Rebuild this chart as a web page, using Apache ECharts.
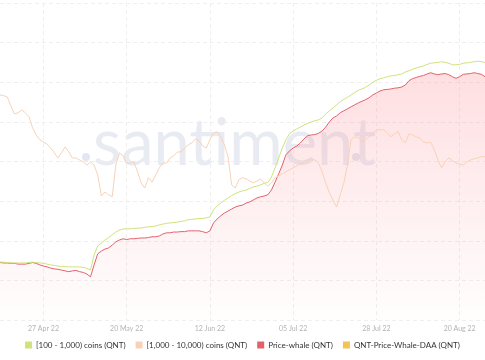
<!DOCTYPE html>
<html>
<head>
<meta charset="utf-8">
<script src="https://cdn.jsdelivr.net/npm/echarts@6/dist/echarts.min.js"></script>
<style>html,body{margin:0;padding:0;background:#fff;}#c{width:485px;height:360px;}</style>
</head>
<body>
<div id="c"></div>
<script>
// Daily categories: 15 Apr 2022 .. 27 Aug 2022 (135 days)
var startDate = '2022-04-15';
var dayCount = 135;
var tickLabels = ['27 Apr 22', '20 May 22', '12 Jun 22', '05 Jul 22', '28 Jul 22', '20 Aug 22'];

var seriesNames = ['[100 - 1,000) coins (QNT)', '[1,000 - 10,000) coins (QNT)', 'Price-whale (QNT)', 'QNT-Price-Whale-DAA (QNT)'];

var coins100to1000 = [
14.6,14.6,14.5,14.4,14.4,14.4,14.4,14.4,14.5,14.6,14.5,14.4,14.3,14.1,13.9,13.8,13.6,13.5,13.5,13.4,
13.4,13.4,13.4,13.3,13.0,12.6,16.4,18.7,19.4,20.2,20.8,21.5,22.2,22.7,23.0,23.0,23.0,23.1,23.2,23.2,
23.4,23.5,23.6,23.7,24.0,24.2,24.4,24.5,24.6,24.7,24.9,25.0,25.3,25.4,25.5,25.6,25.6,25.8,26.0,27.8,
28.8,29.5,30.2,30.8,31.4,31.9,32.3,32.6,32.8,33.2,33.6,33.8,34.1,34.5,34.7,36.1,38.4,40.9,43.4,45.5,
47.0,47.7,48.2,48.7,49.2,49.6,50.0,50.3,50.5,51.0,52.0,52.8,53.5,54.3,55.1,55.7,56.2,56.8,57.4,58.0,
58.3,58.7,59.3,60.0,60.5,60.9,61.1,61.4,61.6,61.7,61.9,62.1,62.6,62.9,63.3,63.6,63.9,64.1,64.5,64.8,
64.9,65.0,65.2,65.0,64.8,64.4,64.4,64.5,64.8,64.9,65.0,65.2,65.3,65.2,65.0
];

var coins1000to10000 = [
56.8,56.6,56.3,54.0,52.0,52.3,53.0,52.3,51.3,48.5,46.7,45.5,44.9,44.4,43.4,42.2,40.9,42.2,43.7,42.4,
40.9,40.9,40.4,39.9,39.1,39.9,39.1,36.6,31.3,32.3,31.6,31.1,39.1,42.2,41.4,39.6,39.6,39.9,37.4,34.6,
33.3,35.9,34.8,36.6,38.4,39.6,39.6,40.9,41.4,42.4,42.4,43.4,44.2,44.7,45.7,45.2,43.9,43.4,45.5,47.2,
47.5,46.2,44.2,41.2,34.1,33.3,35.4,35.9,35.6,35.1,34.6,35.1,35.6,34.6,33.8,34.6,35.9,36.4,36.9,37.4,
37.9,38.4,38.9,39.4,39.9,40.4,40.4,40.4,39.6,37.4,34.6,32.1,30.3,28.5,31.6,34.6,39.1,45.5,46.2,46.0,
44.9,45.5,46.2,47.0,48.0,48.0,48.0,47.2,46.2,47.0,47.5,45.5,44.7,47.0,46.7,46.2,46.0,44.9,44.7,44.9,
42.9,40.4,38.4,39.9,40.9,40.2,39.6,39.4,39.1,39.9,40.4,40.7,40.9,41.2,41.2
];

var priceWhale = [
14.5,14.4,14.4,14.3,14.3,14.1,14.1,14.1,14.3,14.5,14.3,13.9,13.6,13.4,13.1,12.9,12.8,12.6,12.4,12.2,
12.4,12.5,12.2,12.0,11.6,10.9,13.9,16.7,17.4,17.9,18.2,18.9,19.7,20.2,20.5,20.3,20.5,20.5,20.6,20.7,
20.7,20.8,21.0,21.0,21.2,21.7,22.0,22.0,22.2,22.2,22.3,22.3,22.5,22.5,22.5,22.5,22.3,22.0,22.5,24.5,
25.5,26.3,27.0,27.5,28.0,28.5,28.8,29.0,29.5,29.8,30.3,30.8,31.1,31.3,31.6,32.8,34.8,36.9,39.1,41.7,
42.7,43.4,43.9,44.7,45.7,46.5,46.7,46.8,47.1,47.7,48.7,50.0,51.0,51.5,52.3,52.8,53.3,53.8,54.3,54.8,
55.2,55.6,56.1,56.8,57.3,57.8,58.1,58.2,58.3,58.5,58.6,58.8,59.3,60.4,60.9,61.2,61.5,61.7,62.1,62.4,
62.1,61.9,62.1,62.2,61.9,61.4,61.0,61.4,62.0,62.1,62.2,62.4,62.2,62.0,61.4
];

var priceWhaleDAA = [];

var colors = ['#d0e27a', '#f8d2b6', '#e4606b', '#f3c454'];

var months = ['Jan','Feb','Mar','Apr','May','Jun','Jul','Aug','Sep','Oct','Nov','Dec'];
var categories = [];
var t0 = Date.parse(startDate + 'T00:00:00Z');
for (var i = 0; i < dayCount; i++) {
  var d = new Date(t0 + i * 86400000);
  var dd = ('0' + d.getUTCDate()).slice(-2);
  categories.push(dd + ' ' + months[d.getUTCMonth()] + ' ' + String(d.getUTCFullYear()).slice(-2));
}
function isTick(idx) { return tickLabels.indexOf(categories[idx]) >= 0; }

var chart = echarts.init(document.getElementById('c'), null, {renderer: 'canvas'});
chart.setOption({
  animation: false,
  backgroundColor: '#ffffff',
  color: colors,
  grid: {left: 0, right: 0, top: 3, bottom: 40},
  legend: {
    bottom: 11, left: 'center', padding: 0,
    icon: 'rect', itemWidth: 7, itemHeight: 7, itemGap: 10,
    textStyle: {fontFamily: 'Lato', fontSize: 8, color: '#333333', padding: [0, 0, 0, -1]},
    data: seriesNames
  },
  graphic: [
    {type: 'text', z: 0, left: 93, top: 112, style: {text: 'santiment', font: '400 65px Lato', fill: 'rgba(175,182,212,0.27)'}},
    {type: 'circle', z: 0, shape: {cx: 86, cy: 157, r: 4}, style: {fill: 'rgba(175,182,212,0.35)'}},
    {type: 'circle', z: 0, shape: {cx: 356, cy: 157, r: 4}, style: {fill: 'rgba(175,182,212,0.35)'}}
  ],
  xAxis: {
    type: 'category', boundaryGap: false, data: categories,
    axisLine: {show: false}, axisTick: {show: false},
    axisLabel: {interval: isTick, fontSize: 7, color: '#b3b3b3', fontFamily: 'Lato', margin: 5, hideOverlap: false},
    splitLine: {show: true, interval: isTick, lineStyle: {color: '#efefef', type: [4, 3], width: 1}}
  },
  yAxis: {
    type: 'value', min: 0, max: 80, interval: 10,
    axisLine: {show: false}, axisTick: {show: false}, axisLabel: {show: false},
    splitLine: {show: true, lineStyle: {color: '#efefef', type: [4, 3], width: 1}}
  },
  series: [
    {name: seriesNames[2], type: 'line', data: priceWhale, symbol: 'none', z: 2,
     lineStyle: {color: colors[2], width: 1},
     itemStyle: {color: colors[2]},
     areaStyle: {color: new echarts.graphic.LinearGradient(0, 0, 0, 1, [
       {offset: 0, color: 'rgba(252,150,158,0.44)'},
       {offset: 1, color: 'rgba(252,150,158,0.02)'}])}},
    {name: seriesNames[0], type: 'line', data: coins100to1000, symbol: 'none', z: 3,
     lineStyle: {color: colors[0], width: 1}, itemStyle: {color: colors[0]}},
    {name: seriesNames[1], type: 'line', data: coins1000to10000, symbol: 'none', z: 3,
     lineStyle: {color: colors[1], width: 1}, itemStyle: {color: colors[1]}},
    {name: seriesNames[3], type: 'line', data: priceWhaleDAA, symbol: 'none', z: 3,
     lineStyle: {color: colors[3], width: 1}, itemStyle: {color: colors[3]}}
  ]
});
</script>
</body>
</html>
